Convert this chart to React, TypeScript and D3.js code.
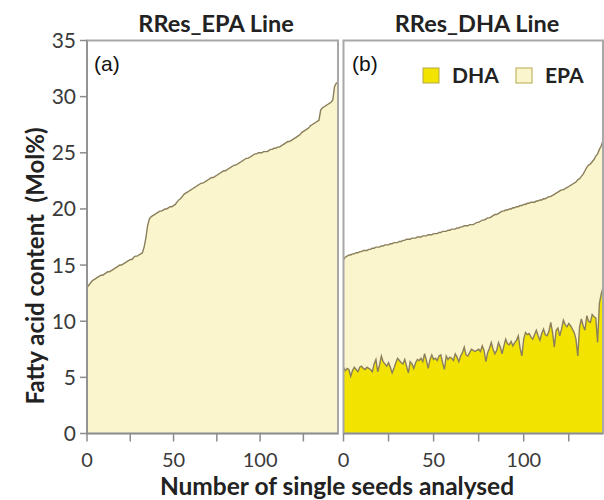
import * as d3 from 'd3';

// RRes_EPA line: EPA per seed, sorted (mol%)
const epaA = [
  13.0, 13.2, 13.4, 13.6, 13.7, 13.8, 13.9, 14.0, 14.1, 14.1,
  14.2, 14.3, 14.4, 14.4, 14.5, 14.6, 14.7, 14.8, 14.9, 15.0,
  15.0, 15.1, 15.2, 15.3, 15.4, 15.5, 15.5, 15.7, 15.8, 15.8,
  15.9, 16.0, 16.1, 16.6, 17.4, 18.5, 19.1, 19.3, 19.4, 19.5,
  19.6, 19.7, 19.8, 19.8, 19.9, 20.0, 20.0, 20.1, 20.2, 20.2,
  20.3, 20.4, 20.6, 20.8, 20.9, 21.1, 21.3, 21.4, 21.5, 21.6,
  21.7, 21.8, 21.9, 22.0, 22.1, 22.2, 22.3, 22.3, 22.4, 22.5,
  22.6, 22.7, 22.8, 22.8, 22.9, 23.0, 23.1, 23.2, 23.3, 23.4,
  23.4, 23.5, 23.6, 23.7, 23.8, 23.9, 23.9, 24.0, 24.1, 24.2,
  24.3, 24.4, 24.5, 24.5, 24.6, 24.7, 24.8, 24.9, 24.9, 25.0,
  25.0, 25.0, 25.1, 25.1, 25.1, 25.2, 25.3, 25.3, 25.4, 25.4,
  25.5, 25.5, 25.6, 25.7, 25.8, 25.9, 26.0, 26.0, 26.1, 26.2,
  26.3, 26.4, 26.5, 26.6, 26.8, 26.9, 27.0, 27.1, 27.2, 27.4,
  27.5, 27.6, 27.7, 27.8, 27.9, 28.8, 29.0, 29.1, 29.2, 29.3,
  29.4, 29.5, 29.7, 30.9, 31.2, 31.3,
];

// RRes_DHA line: DHA per seed (bottom layer)
const dhaB = [
  5.9, 5.6, 5.8, 5.7, 5.1, 5.6, 5.9, 5.7, 5.5, 5.9,
  6.0, 5.8, 5.7, 5.9, 5.8, 5.7, 5.5, 6.2, 6.6, 5.5,
  6.1, 6.9, 6.4, 6.2, 6.0, 6.3, 5.9, 5.4, 5.8, 6.3,
  6.7, 6.5, 6.3, 6.2, 6.6, 6.0, 5.4, 6.4, 6.2, 5.8,
  6.3, 6.6, 6.5, 6.7, 6.4, 7.1, 6.5, 5.8, 6.6, 7.0,
  6.6, 6.7, 6.5, 6.9, 7.0, 6.3, 5.7, 6.9, 6.6, 6.8,
  6.7, 6.5, 7.1, 6.8, 6.4, 6.9, 7.2, 7.7, 7.0, 6.9,
  7.2, 7.5, 7.4, 7.3, 7.4, 7.5, 7.3, 7.8, 7.4, 6.4,
  7.2, 7.6, 8.1, 7.5, 7.1, 7.4, 8.1, 7.7, 7.1, 7.8,
  8.4, 8.0, 7.9, 8.2, 7.8, 8.1, 8.3, 8.7, 7.6, 6.9,
  8.4, 9.0, 8.8, 8.9, 8.6, 8.4, 8.8, 9.2, 8.7, 8.3,
  8.9, 9.3, 8.8, 8.7, 9.1, 9.9, 9.0, 7.7, 9.2, 9.4,
  8.7, 9.3, 10.1, 9.7, 9.5, 9.8, 9.6, 9.3, 9.0, 8.4,
  6.9, 9.5, 10.2, 9.6, 9.2, 10.5, 10.0, 9.9, 10.6, 10.4,
  10.3, 8.1, 11.6, 12.4, 13.0,
];

// RRes_DHA line: DHA + EPA per seed (top of the stack)
const totalB = [
  15.5, 15.7, 15.8, 15.9, 15.9, 16.0, 16.0, 16.1, 16.1, 16.2,
  16.2, 16.3, 16.3, 16.3, 16.4, 16.4, 16.5, 16.5, 16.6, 16.6,
  16.6, 16.7, 16.7, 16.8, 16.8, 16.8, 16.9, 16.9, 17.0, 17.0,
  17.0, 17.1, 17.1, 17.2, 17.2, 17.3, 17.3, 17.3, 17.4, 17.4,
  17.4, 17.5, 17.5, 17.5, 17.6, 17.6, 17.6, 17.7, 17.7, 17.7,
  17.8, 17.8, 17.8, 17.9, 17.9, 18.0, 18.0, 18.0, 18.1, 18.1,
  18.2, 18.2, 18.2, 18.3, 18.3, 18.4, 18.4, 18.5, 18.5, 18.5,
  18.6, 18.6, 18.6, 18.7, 18.8, 18.8, 18.9, 19.0, 19.0, 19.1,
  19.2, 19.2, 19.3, 19.4, 19.5, 19.5, 19.6, 19.7, 19.8, 19.8,
  19.9, 19.9, 20.0, 20.0, 20.1, 20.1, 20.2, 20.2, 20.3, 20.3,
  20.4, 20.4, 20.5, 20.5, 20.6, 20.6, 20.6, 20.7, 20.7, 20.8,
  20.8, 20.9, 20.9, 21.0, 21.1, 21.1, 21.2, 21.3, 21.4, 21.5,
  21.6, 21.7, 21.7, 21.8, 21.9, 22.0, 22.1, 22.2, 22.3, 22.4,
  22.6, 22.7, 22.9, 23.1, 23.4, 23.7, 23.9, 24.0, 24.2, 24.4,
  24.7, 24.9, 25.3, 25.6, 26.1,
];

const yTicks = [0, 5, 10, 15, 20, 25, 30, 35];
const xTicks = [0, 25, 50, 75, 100, 125];
const xTickLabels = [0, 50, 100];
const seriesNames = ['DHA', 'EPA'];

const EPA_FILL = '#fbf5cd';
const DHA_FILL = '#f2e400';
const EDGE = '#8a7f5a';
const FRAME = '#a8a8a8';
const AXIS = '#8c8c8c';

const tickFont = 'Lato, sans-serif';

export default function App() {
  const y = d3.scaleLinear().domain([0, 35]).range([433.5, 40.5]);
  const xA = d3.scaleLinear().domain([0, epaA.length - 1]).range([87, 338]);
  const xB = d3.scaleLinear().domain([0, dhaB.length - 1]).range([343.5, 603]);

  // panel (a)
  const areaA = d3.area<number>()
    .x((_, i) => xA(i))
    .y0(y(0))
    .y1((d) => y(d));
  const lineA = d3.line<number>()
    .x((_, i) => xA(i))
    .y((d) => y(d));

  // panel (b) stacked
  const rows = dhaB.map((d, i) => ({ DHA: d, EPA: totalB[i] - d }));
  const stacked = d3.stack<any>().keys(seriesNames)(rows);
  const areaB = d3.area<any>()
    .x((_, i) => xB(i))
    .y0((d) => y(d[0]))
    .y1((d) => y(d[1]));
  const lineB = d3.line<any>()
    .x((_, i) => xB(i))
    .y((d) => y(d[1]));

  const fills: Record<string, string> = { DHA: DHA_FILL, EPA: EPA_FILL };

  const xAxis = (x: d3.ScaleLinear<number, number>, key: string) => (
    <g key={key}>
      <line x1={x.range()[0]} x2={x.range()[1]} y1={y(0)} y2={y(0)} stroke={AXIS} strokeWidth={1.5} />
      {xTicks.map((t) => (
        <line key={t} x1={x(t)} x2={x(t)} y1={y(0)} y2={y(0) + 8} stroke={AXIS} strokeWidth={1.5} />
      ))}
      {xTickLabels.map((t) => (
        <text key={'l' + t} x={x(t)} y={467} textAnchor="middle" fontFamily={tickFont} fontSize={20} fill="#3a3a3a">
          {t}
        </text>
      ))}
    </g>
  );

  return (
    <svg width={604} height={500} style={{ position: 'absolute', left: 0, top: 0, background: '#fff' }}>
      {/* panel (a) */}
      <path d={areaA(epaA) || ''} fill={EPA_FILL} />
      <path d={lineA(epaA) || ''} fill="none" stroke={EDGE} strokeWidth={1.4} />
      <rect x={87} y={40.5} width={251} height={393} fill="none" stroke={FRAME} strokeWidth={2} />

      {/* panel (b) */}
      {stacked.slice().reverse().map((s) => (
        <path key={s.key} d={areaB(s as any) || ''} fill={fills[s.key]} />
      ))}
      {stacked.map((s) => (
        <path key={'e' + s.key} d={lineB(s as any) || ''} fill="none" stroke={EDGE} strokeWidth={1.4} />
      ))}
      <rect x={343.5} y={40.5} width={259.5} height={393} fill="none" stroke={FRAME} strokeWidth={2} />

      {/* y axis */}
      <line x1={87} x2={87} y1={y(35)} y2={y(0)} stroke={AXIS} strokeWidth={1.5} />
      {yTicks.map((t) => (
        <g key={t}>
          <line x1={80} x2={87} y1={y(t)} y2={y(t)} stroke={AXIS} strokeWidth={1.5} />
          <text x={76} y={y(t) + 7.5} textAnchor="end" fontFamily={tickFont} fontSize={21} fill="#3a3a3a">
            {t}
          </text>
        </g>
      ))}
      {xAxis(xA, 'xa')}
      {xAxis(xB, 'xb')}

      {/* titles */}
      <text x={216} y={32} textAnchor="middle" fontFamily={tickFont} fontWeight={700} fontSize={23.5} fill="#222">
        RRes_EPA Line
      </text>
      <text x={477} y={32} textAnchor="middle" fontFamily={tickFont} fontWeight={700} fontSize={23.5} fill="#222">
        RRes_DHA Line
      </text>
      <text x={94} y={71} fontFamily="'Liberation Sans', Arial, sans-serif" fontSize={21} fill="#111">(a)</text>
      <text x={352} y={71} fontFamily="'Liberation Sans', Arial, sans-serif" fontSize={21} fill="#111">(b)</text>

      {/* legend */}
      {seriesNames.map((n, i) => (
        <g key={n} transform={`translate(${423 + i * 93},68)`}>
          <rect x={0} y={0} width={16} height={15} fill={fills[n]} stroke="#b5a94a" strokeWidth={1} />
          <text x={29} y={15} fontFamily={tickFont} fontWeight={700} fontSize={21} fill="#222">{n}</text>
        </g>
      ))}

      {/* axis titles */}
      <text x={337} y={495} textAnchor="middle" fontFamily={tickFont} fontWeight={700} fontSize={24.5} fill="#222">
        Number of single seeds analysed
      </text>
      <text
        transform="translate(44,266) rotate(-90)"
        textAnchor="middle"
        fontFamily={tickFont}
        fontWeight={700}
        fontSize={24}
        fill="#222"
      >
        {'Fatty acid content\u00A0 (Mol%)'}
      </text>
    </svg>
  );
}
